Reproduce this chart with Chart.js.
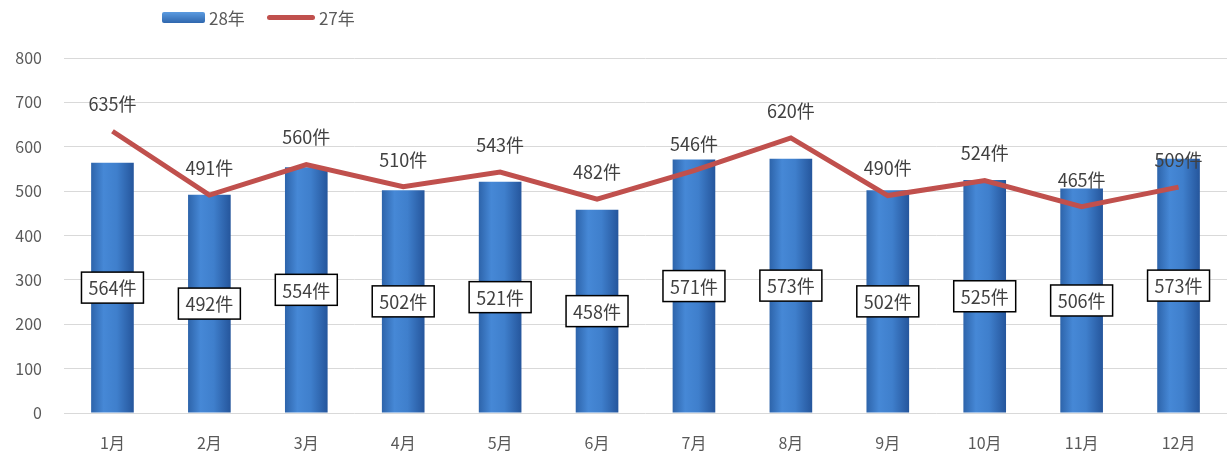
<!DOCTYPE html>
<html>
<head>
<meta charset="utf-8">
<script src="https://cdn.jsdelivr.net/npm/chart.js@4.4.0/dist/chart.umd.min.js"></script>
<style>
    html, body { margin: 0; padding: 0; background: #fff; }
    #wrap { position: relative; width: 1227px; height: 453px; }
    #legend { position: absolute; left: 162px; top: 5px; font-family: "Noto Sans CJK JP", "Noto Sans", sans-serif; font-size: 17px; color: #595959; display: flex; align-items: center; }
    .sw-bar { width: 43px; height: 11px; border-radius: 2px; background: linear-gradient(to bottom, #5b9be0, #2f67ae); margin-right: 4px; }
    .sw-line { width: 48px; height: 5px; border-radius: 3px; background: #c0504d; margin: 0 4px 0 22px; }
</style>
</head>
<body>
<div id="wrap">
    <canvas id="chart" width="1227" height="453"></canvas>
    <div id="legend"><span class="sw-bar"></span><span>28年</span><span class="sw-line"></span><span>27年</span></div>
</div>
<script>
"use strict";

// data
var months = ['1月', '2月', '3月', '4月', '5月', '6月', '7月', '8月', '9月', '10月', '11月', '12月'];
var year28 = [564, 492, 554, 502, 521, 458, 571, 573, 502, 525, 506, 573];
var year27 = [635, 491, 560, 510, 543, 482, 546, 620, 490, 524, 465, 509];
var yTicks = [0, 100, 200, 300, 400, 500, 600, 700, 800];

var FONT = '"Noto Sans CJK JP", "Noto Sans", sans-serif';

// horizontal gradient across each bar
function barFill(ctx) {
    var chart = ctx.chart;
    if (!chart.chartArea || !chart.scales.x) {
        return '#3a78c4';
    }
    var cx = chart.scales.x.getPixelForValue(ctx.dataIndex);
    var half = 22;
    var g = chart.ctx.createLinearGradient(cx - half, 0, cx + half, 0);
    g.addColorStop(0, '#2c62a8');
    g.addColorStop(0.3, '#4688d6');
    g.addColorStop(0.6, '#3f7fcc');
    g.addColorStop(1, '#24549a');
    return g;
}

var labelPlugin = {
    id: 'valueLabels',
    afterDatasetsDraw: function (chart) {
        var ctx = chart.ctx;
        ctx.save();
        ctx.font = '18px ' + FONT;
        ctx.textAlign = 'center';
        ctx.textBaseline = 'middle';

        // line labels above points
        var lineMeta = chart.getDatasetMeta(1);
        lineMeta.data.forEach(function (pt, i) {
            ctx.fillStyle = '#404040';
            ctx.fillText(year27[i] + '件', pt.x, pt.y - 27);
        });

        // boxed labels in the middle of the bars
        var barMeta = chart.getDatasetMeta(0);
        barMeta.data.forEach(function (bar, i) {
            var text = year28[i] + '件';
            var w = ctx.measureText(text).width + 14;
            var h = 31;
            var y = (bar.y + bar.base) / 2;
            ctx.fillStyle = '#ffffff';
            ctx.fillRect(bar.x - w / 2, y - h / 2, w, h);
            ctx.strokeStyle = '#000000';
            ctx.lineWidth = 1.5;
            ctx.strokeRect(bar.x - w / 2, y - h / 2, w, h);
            ctx.fillStyle = '#404040';
            ctx.fillText(text, bar.x, y + 1);
        });
        ctx.restore();
    }
};

var config = {
    data: {
        labels: months,
        datasets: [{
            type: 'bar',
            label: '28年',
            data: year28,
            backgroundColor: barFill,
            barPercentage: 0.44,
            categoryPercentage: 1,
            order: 2
        }, {
            type: 'line',
            label: '27年',
            data: year27,
            borderColor: '#c0504d',
            borderWidth: 5,
            pointRadius: 0,
            tension: 0,
            order: 1
        }]
    },
    options: {
        responsive: false,
        animation: false,
        layout: { padding: { top: 58, right: 0, left: 0, bottom: 0 } },
        scales: {
            x: {
                grid: { display: false },
                border: { display: false },
                ticks: { color: '#595959', font: { family: FONT, size: 16 }, padding: 12 },
                afterFit: function (scale) { scale.height = 40; }
            },
            y: {
                min: 0,
                max: 800,
                afterBuildTicks: function (scale) {
                    scale.ticks = yTicks.map(function (v) { return { value: v }; });
                },
                grid: { color: '#d9d9d9', lineWidth: 1, drawTicks: false },
                border: { display: false },
                ticks: { color: '#595959', font: { family: FONT, size: 16 }, padding: 22 },
                afterFit: function (scale) { scale.width = 64; }
            }
        },
        plugins: {
            legend: { display: false },
            tooltip: { enabled: false }
        }
    },
    plugins: [labelPlugin]
};

new Chart(document.getElementById('chart').getContext('2d'), config);
</script>
</body>
</html>
